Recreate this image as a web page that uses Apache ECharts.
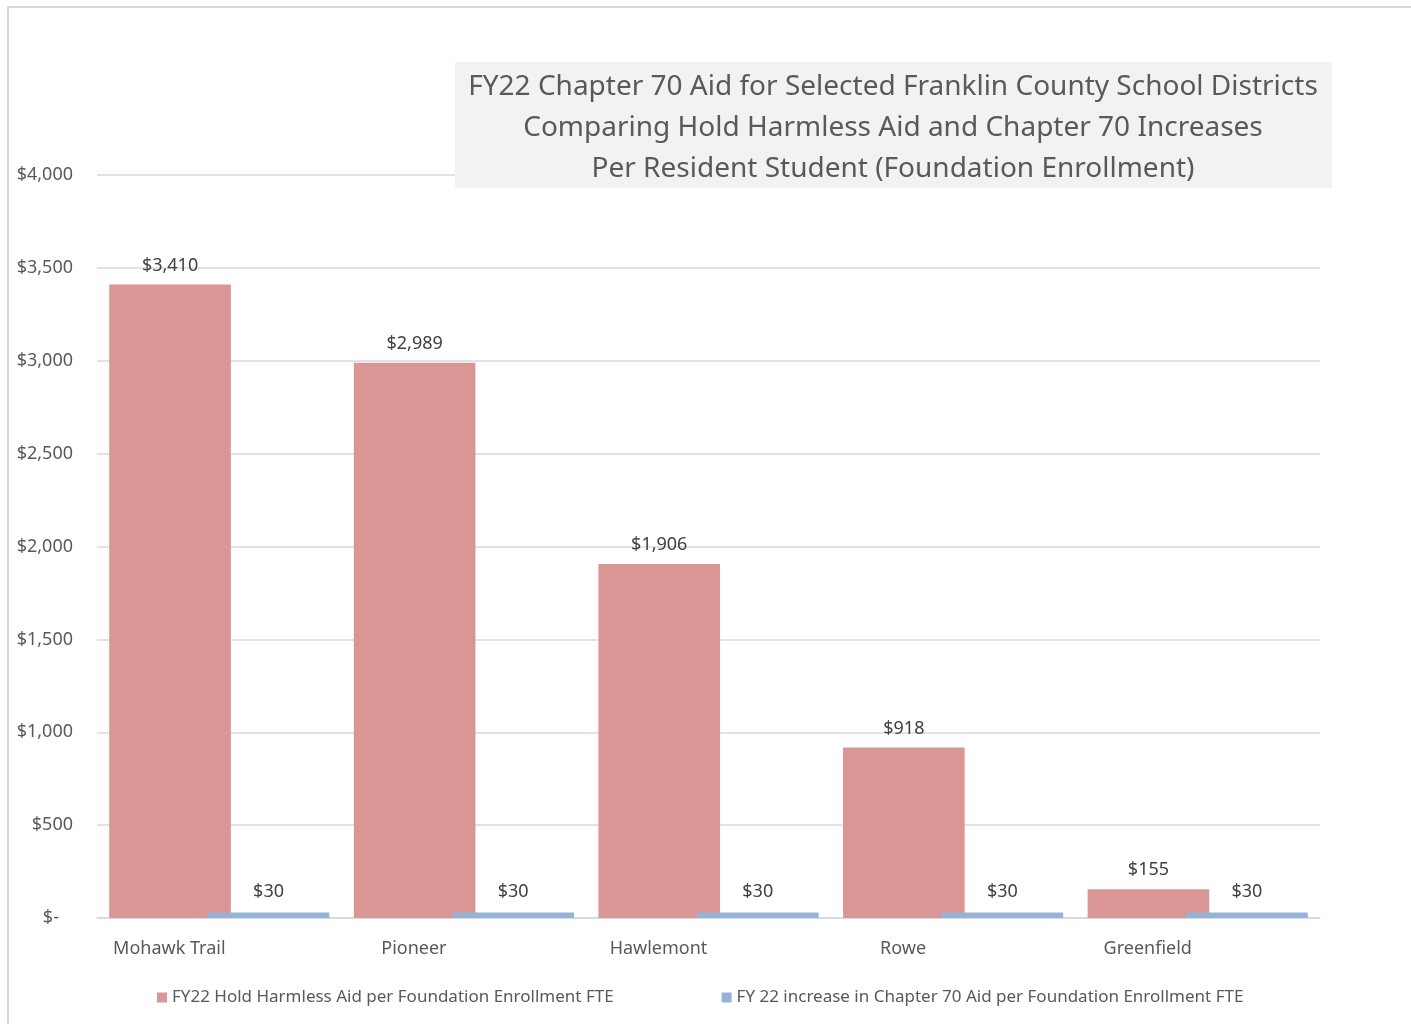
<!DOCTYPE html>
<html lang="en">
<head>
    <meta charset="UTF-8">
    <title>FY22 Chapter 70 Aid</title>
    <script src="https://cdn.jsdelivr.net/npm/echarts@6/dist/echarts.min.js"></script>
    <style>
        body {
            margin: 0;
            padding: 0;
            overflow: hidden;
            background: #fff;
        }
        #frame {
            position: absolute;
            left: 7px;
            top: 6px;
            width: 1500px;
            height: 1100px;
            border: 2px solid #d9d9d9;
        }
        #main {
            position: absolute;
            left: 0;
            top: 0;
            width: 1411px;
            height: 1024px;
        }
    </style>
</head>
<body>
    <div id="frame"></div>
    <div id="main"></div>
<script>
    var districts = ['Mohawk Trail', 'Pioneer', 'Hawlemont', 'Rowe', 'Greenfield'];
    var holdHarmless = [3410, 2989, 1906, 918, 155];
    var ch70Increase = [30, 30, 30, 30, 30];
    var seriesNames = ['FY22 Hold Harmless Aid per Foundation Enrollment FTE',
        'FY 22 increase in Chapter 70 Aid per Foundation Enrollment FTE'];
    var titleLines = ['FY22 Chapter 70 Aid for Selected Franklin County School Districts',
        'Comparing Hold Harmless Aid and Chapter 70 Increases',
        'Per Resident Student (Foundation Enrollment)'];

    var font = '"Noto Sans", sans-serif';
    var app = echarts.init(document.getElementById('main'));

    function money(v) {
        if (v === 0) return '$-   ';
        return '$' + v.toLocaleString('en-US');
    }

    var option = {
        color: ['#d99694', '#95b3d7'],
        textStyle: { fontFamily: font },
        animation: false,
        graphic: [{
            type: 'rect',
            left: 455,
            top: 62,
            shape: { width: 877, height: 126 },
            style: { fill: '#f2f2f2' },
            z: 10
        }, {
            type: 'text',
            x: 893,
            y: 128,
            z: 11,
            style: {
                text: titleLines.join('\n'),
                font: '28px ' + font,
                fill: '#595959',
                align: 'center',
                verticalAlign: 'middle',
                lineHeight: 41
            }
        }],
        legend: {
            bottom: 13,
            left: 152,
            itemWidth: 10,
            itemHeight: 10,
            itemGap: 108,
            icon: 'rect',
            textStyle: { color: '#595959', fontSize: 17, fontFamily: font },
            data: seriesNames
        },
        grid: {
            left: 97,
            right: 91,
            top: 175,
            bottom: 106
        },
        xAxis: {
            type: 'category',
            data: districts,
            axisLine: { lineStyle: { color: '#d9d9d9', width: 1.5 } },
            axisTick: { show: false },
            axisLabel: {
                color: '#595959',
                fontSize: 18,
                margin: 22,
                padding: [0, 100, 0, 0]
            }
        },
        yAxis: {
            type: 'value',
            min: 0,
            max: 4000,
            interval: 500,
            axisLine: { show: false },
            axisTick: { show: false },
            splitLine: { lineStyle: { color: '#d9d9d9', width: 1.5 } },
            axisLabel: {
                color: '#595959',
                fontSize: 18,
                margin: 24,
                formatter: money
            }
        },
        series: [{
            name: seriesNames[0],
            type: 'bar',
            data: holdHarmless,
            barGap: '-19%',
            barCategoryGap: '10%',
            label: {
                show: true,
                position: 'top',
                distance: 10,
                color: '#404040',
                fontSize: 18,
                formatter: function(p) { return money(p.value); }
            }
        }, {
            name: seriesNames[1],
            type: 'bar',
            data: ch70Increase,
            label: {
                show: true,
                position: 'top',
                distance: 12,
                color: '#404040',
                fontSize: 18,
                formatter: function(p) { return money(p.value); }
            }
        }]
    };
    app.setOption(option);
</script>
</body>
</html>
